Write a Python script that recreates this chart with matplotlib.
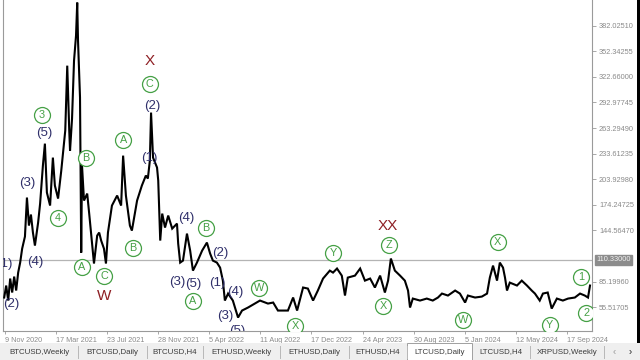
import matplotlib
matplotlib.use("Agg")
import matplotlib.pyplot as plt
from matplotlib.patches import Rectangle
from matplotlib.ticker import FixedLocator, FixedFormatter
import pandas as pd

plt.rcParams['font.family'] = ['Liberation Sans', 'DejaVu Sans']

# ---------------- data ----------------
price_dates = [
    "2020-11-07", "2020-11-12", "2020-11-17", "2020-11-22", "2020-11-27", "2020-12-02", "2020-12-07",
    "2020-12-12", "2020-12-17", "2020-12-22", "2020-12-29", "2021-01-03", "2021-01-08", "2021-01-13",
    "2021-01-18", "2021-01-23", "2021-01-31", "2021-02-05", "2021-02-12", "2021-02-17", "2021-02-22",
    "2021-03-02", "2021-03-09", "2021-03-14", "2021-03-22", "2021-03-30", "2021-04-09", "2021-04-14",
    "2021-04-19", "2021-04-21", "2021-04-26", "2021-05-01", "2021-05-06", "2021-05-09", "2021-05-11",
    "2021-05-16", "2021-05-19", "2021-05-21", "2021-05-26", "2021-06-03", "2021-06-08", "2021-06-20",
    "2021-06-28", "2021-07-03", "2021-07-08", "2021-07-15", "2021-07-20", "2021-07-25", "2021-08-04",
    "2021-08-17", "2021-08-27", "2021-09-01", "2021-09-08", "2021-09-18", "2021-09-23", "2021-10-06",
    "2021-10-18", "2021-10-28", "2021-11-02", "2021-11-07", "2021-11-10", "2021-11-15", "2021-11-25",
    "2021-11-28", "2021-12-03", "2021-12-08", "2021-12-15", "2021-12-23", "2022-01-02", "2022-01-14",
    "2022-01-17", "2022-01-22", "2022-01-29", "2022-02-08", "2022-02-16", "2022-02-23", "2022-03-05",
    "2022-03-18", "2022-03-30", "2022-04-07", "2022-04-14", "2022-04-24", "2022-05-02", "2022-05-09",
    "2022-05-14", "2022-05-22", "2022-06-03", "2022-06-16", "2022-06-26", "2022-07-11", "2022-07-28",
    "2022-08-10", "2022-08-30", "2022-09-12", "2022-09-24", "2022-10-19", "2022-11-01", "2022-11-11",
    "2022-11-26", "2022-12-08", "2022-12-21", "2023-01-02", "2023-01-15", "2023-02-01", "2023-02-09",
    "2023-02-19", "2023-03-03", "2023-03-11", "2023-03-18", "2023-04-05", "2023-04-18", "2023-04-30",
    "2023-05-13", "2023-05-25", "2023-06-07", "2023-06-19", "2023-06-27", "2023-07-04", "2023-07-14",
    "2023-07-27", "2023-08-08", "2023-08-16", "2023-08-21", "2023-08-28", "2023-09-15", "2023-10-02",
    "2023-10-17", "2023-10-30", "2023-11-09", "2023-11-24", "2023-12-12", "2023-12-24", "2024-01-06",
    "2024-01-13", "2024-01-31", "2024-02-17", "2024-03-01", "2024-03-08", "2024-03-16", "2024-03-26",
    "2024-04-02", "2024-04-10", "2024-04-15", "2024-04-20", "2024-04-27", "2024-05-15", "2024-05-27",
    "2024-06-09", "2024-06-21", "2024-06-29", "2024-07-11", "2024-07-19", "2024-07-31", "2024-08-10",
    "2024-08-23", "2024-09-07", "2024-09-20", "2024-10-07", "2024-10-20", "2024-11-01", "2024-11-09",
    "2024-11-14",
]
price_values = [
    66.8, 80.7, 63.3, 88.8, 72.6, 91.1, 74.9,
    95.7, 107.3, 123.5, 137.5, 182.7, 150.2, 163.0,
    142.1, 127.0, 153.7, 175.7, 219.8, 245.2, 188.5,
    173.4, 229.0, 196.6, 181.5, 213.9, 260.3, 335.6,
    260.3, 237.1, 274.2, 341.4, 370.4, 408.7, 364.6,
    298.6, 118.9, 219.8, 179.2, 187.3, 164.1, 106.2,
    138.6, 142.1, 132.8, 123.5, 106.2, 142.1, 173.4,
    185.0, 173.4, 231.3, 185.0, 150.2, 144.4, 179.2,
    196.6, 208.2, 204.7, 225.5, 281.2, 229.0, 217.5,
    202.4, 132.8, 164.1, 147.9, 161.8, 146.7, 152.5,
    129.3, 107.3, 109.6, 140.9, 121.2, 98.0, 107.3,
    121.2, 130.5, 117.8, 109.6, 107.3, 101.5, 86.4,
    63.3, 71.4, 63.3, 43.6, 51.7, 55.2, 59.8,
    63.3, 59.8, 61.0, 51.7, 51.7, 66.8, 51.7,
    78.4, 77.2, 63.3, 74.9, 88.8, 98.0, 95.7,
    100.4, 92.2, 69.1, 89.9, 92.2, 100.4, 86.4,
    88.8, 78.4, 92.2, 72.6, 86.4, 112.0, 98.0,
    92.2, 86.4, 74.9, 55.2, 65.6, 63.3, 65.6,
    63.3, 66.8, 71.4, 69.1, 74.9, 71.4, 61.0,
    69.1, 66.8, 67.9, 71.4, 89.9, 103.8, 86.4,
    107.3, 101.5, 89.9, 74.9, 84.1, 80.7, 86.4,
    80.7, 74.9, 71.4, 63.3, 71.4, 72.6, 54.0,
    65.6, 63.3, 65.6, 66.8, 71.4, 69.1, 66.8,
    80.7,
]

current_price = 110.33
price_ticks = [55.51705, 85.19960, 144.56470, 174.24725, 203.92980, 233.61235,
               263.29490, 292.97745, 322.66000, 352.34255, 382.02510, 411.70765]
date_ticks = ["2020-11-09", "2021-03-17", "2021-07-23", "2021-11-28", "2022-04-05", "2022-08-11",
              "2022-12-17", "2023-04-24", "2023-08-30", "2024-01-05", "2024-05-12", "2024-09-17"]
date_tick_labels = ["9 Nov 2020", "17 Mar 2021", "23 Jul 2021", "28 Nov 2021", "5 Apr 2022",
                    "11 Aug 2022", "17 Dec 2022", "24 Apr 2023", "30 Aug 2023", "5 Jan 2024",
                    "12 May 2024", "17 Sep 2024"]

# wave labels: text, date, price, style ('p' = parenthesised, 'c' = circled, 'r' = red)
wave_text = ["(1)", "(2)", "(3)", "(4)", "(5)", "3", "4", "A", "B", "C", "W",
             "A", "B", "(1)", "(2)", "C", "X", "(4)", "B", "(2)", "(3)", "(5)", "A",
             "(1)", "(4)", "(3)", "(5)", "W", "X", "Y", "XX", "Z", "X", "W", "X", "Y", "1", "2"]
wave_date = ["2020-11-08", "2020-11-24", "2021-01-03", "2021-01-23", "2021-02-15", "2021-02-10",
             "2021-03-22", "2021-05-21", "2021-05-31", "2021-07-15", "2021-07-15",
             "2021-09-01", "2021-09-26", "2021-11-05", "2021-11-12", "2021-11-07", "2021-11-07",
             "2022-02-06", "2022-03-28", "2022-05-02", "2022-01-15", "2022-02-23", "2022-02-23",
             "2022-04-24", "2022-06-08", "2022-05-14", "2022-06-13", "2022-08-08", "2022-11-06",
             "2023-02-09", "2023-06-27", "2023-06-29", "2023-06-14", "2024-01-01", "2024-03-28",
             "2024-08-05", "2024-10-22", "2024-11-04"]
wave_price = [105.7, 59.4, 199.6, 108.0, 257.6, 278.4,
              159.0, 102.2, 228.6, 91.8, 68.6,
              249.4, 124.3, 228.6, 288.8, 314.3, 341.0,
              159.0, 147.4, 118.5, 84.9, 82.5, 62.8,
              83.7, 73.3, 45.5, 28.1, 77.9, 33.9,
              118.5, 149.8, 127.7, 57.0, 40.8, 131.2,
              35.0, 90.7, 48.9]
wave_style = ["p", "p", "p", "p", "p", "c", "c", "c", "c", "c", "r",
              "c", "c", "p", "p", "c", "r", "p", "c", "p", "p", "p", "c",
              "p", "p", "p", "p", "c", "c", "c", "r", "c", "c", "c", "c", "c", "c", "c"]

tab_names = ["BTCUSD,Weekly", "BTCUSD,Daily", "BTCUSD,H4", "ETHUSD,Weekly", "ETHUSD,Daily",
             "ETHUSD,H4", "LTCUSD,Daily", "LTCUSD,H4", "XRPUSD,Weekly"]
active_tab = "LTCUSD,Daily"

# ---------------- figure ----------------
W, H = 640, 360
fig = plt.figure(figsize=(6.4, 3.6), dpi=100)
fig.patch.set_facecolor("white")

ax = fig.add_axes([3 / W, 1 - 331 / H, (592 - 3) / W, 331 / H])
ax.set_facecolor("white")

dates = pd.to_datetime(price_dates)
ax.plot(dates, price_values, color="black", lw=1.5, solid_joinstyle="miter", zorder=3)

ax.axhline(current_price, color="#b4b4b4", lw=0.9, zorder=1)

ax.set_xlim(pd.Timestamp("2020-11-04"), pd.Timestamp("2024-11-19"))
ax.set_ylim(28.0, 411.7)

GREEN = "#45a045"
NAVY = "#2f2f6a"
RED = "#8e1f24"
for t, d, p, s in zip(wave_text, wave_date, wave_price, wave_style):
    x = pd.Timestamp(d)
    if s == "p":
        txt = ax.text(x, p, t, color=NAVY, fontsize=9.5, ha="center", va="center", zorder=5)
    elif s == "r":
        txt = ax.text(x, p, t, color=RED, fontsize=11, ha="center", va="center", zorder=5)
    else:
        ax.plot([x], [p], marker="o", ms=11.5, mfc="white", mec=GREEN, mew=0.9, zorder=5, clip_on=True)
        txt = ax.text(x, p, t, color=GREEN, fontsize=7.8, ha="center", va="center", zorder=6)
    txt.set_clip_path(ax.patch)
    txt.set_clip_on(True)

# axes styling
ax.spines["top"].set_visible(False)
for sp in ["left", "bottom", "right"]:
    ax.spines[sp].set_color("#9a9a9a")
    ax.spines[sp].set_linewidth(0.8)

ax.yaxis.tick_right()
ax.yaxis.set_major_locator(FixedLocator(price_ticks))
ax.yaxis.set_major_formatter(FixedFormatter(["%.5f" % v for v in price_ticks]))
ax.tick_params(axis="y", length=3, width=0.6, color="#9a9a9a", labelsize=5.3,
               labelcolor="#8a8a8a", pad=2)

ax.set_xticks(pd.to_datetime(date_ticks))
ax.set_xticklabels(date_tick_labels)
ax.tick_params(axis="x", length=2, width=0.6, color="#9a9a9a", labelsize=5.2,
               labelcolor="#8a8a8a", pad=2)
for lbl in ax.get_xticklabels():
    lbl.set_ha("left")

# current price tag
ax.annotate("%.5f" % current_price, xy=(1.0, current_price), xycoords=("axes fraction", "data"),
            xytext=(3, 0), textcoords="offset points", ha="left", va="center",
            fontsize=5.3, color="#f2f2f2",
            bbox=dict(boxstyle="square,pad=0.15", fc="#8c8c8c", ec="#8c8c8c"))

# right black strip
fig.add_artist(Rectangle((636.5 / W, 17 / H), 3.5 / W, 1 - 17 / H, transform=fig.transFigure,
                         fc="black", ec="none"))

# ---------------- tab bar ----------------
tb = fig.add_axes([0, 0, 1, 17 / H])
tb.set_xlim(0, W)
tb.set_ylim(17, 0)
tb.axis("off")
tb.add_patch(Rectangle((0, 0), W, 17, fc="#efefef", ec="none"))
tab_edges = [2, 78, 147, 203, 280, 349, 407, 472, 530, 604]
for i, name in enumerate(tab_names):
    x0, x1 = tab_edges[i], tab_edges[i + 1]
    if name == active_tab:
        tb.add_patch(Rectangle((x0, 0), x1 - x0, 16.5, fc="white", ec="#a0a0a0", lw=0.7))
    else:
        tb.plot([x1, x1], [3, 15], color="#b8b8b8", lw=0.7)
    tb.text((x0 + x1) / 2, 9, name, fontsize=5.7, color="#3c3c3c", ha="center", va="center")
tb.text(614, 9, "\u2039", fontsize=7, color="#9a9a9a", ha="center", va="center")
tb.text(630, 9, "\u203a", fontsize=7, color="#222222", ha="center", va="center")

fig.savefig("out.png", dpi=100)
